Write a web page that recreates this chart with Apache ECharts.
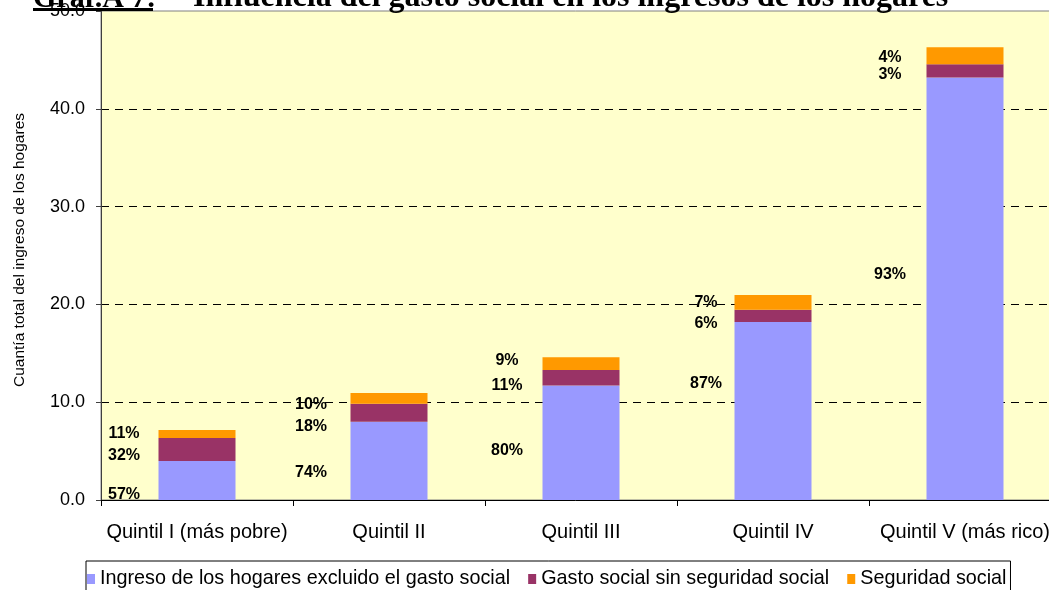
<!DOCTYPE html>
<html>
<head>
<meta charset="utf-8">
<title>Gráf.A 7</title>
<script src="https://cdn.jsdelivr.net/npm/echarts@6/dist/echarts.min.js"></script>
<style>
  html, body { margin: 0; padding: 0; background: #fff; }
  #main { width: 1049px; height: 590px; }
</style>
</head>
<body>
<div id="main"></div>
<script>
// datos
var quintiles = ['Quintil I (más pobre)', 'Quintil II', 'Quintil III', 'Quintil IV', 'Quintil V (más rico)'];
var ingreso = [4.0, 8.0, 11.7, 18.2, 43.2];
var gastoSinSS = [2.35, 1.85, 1.6, 1.25, 1.35];
var seguridad = [0.8, 1.1, 1.3, 1.5, 1.75];
var pctIngreso = ['57%', '74%', '80%', '87%', '93%'];
var pctGasto = ['32%', '18%', '11%', '6%', '3%'];
var pctSeg = ['11%', '10%', '9%', '7%', '4%'];
var yTicks = [0, 10, 20, 30, 40, 50];

var nombres = ['Ingreso de los hogares excluido el gasto social', 'Gasto social sin seguridad social', 'Seguridad social'];
var colores = ['#9999FF', '#993366', '#FF9900'];

// ajuste manual de las etiquetas (como en el original, a la izquierda de cada barra)
var dxLab = [-73, -78, -74, -67, -75];
var dyLab = [
  [14, 12, 8, -27, -14],
  [6, 14, 8, 8, 4],
  [0, 6, -3, 0, 2]
];

function serie(i, valores, pcts) {
  return {
    name: nombres[i],
    type: 'bar',
    stack: 'total',
    barWidth: 77,
    itemStyle: { color: colores[i] },
    data: valores.map(function (v, k) {
      return {
        value: v,
        label: {
          show: true,
          position: 'inside',
          formatter: pcts[k],
          offset: [dxLab[k], dyLab[i][k]],
          color: '#000',
          fontWeight: 'bold',
          fontSize: 16,
          fontFamily: 'Liberation Sans, Arial'
        }
      };
    })
  };
}

var myChart = echarts.init(document.getElementById('main'), null, { renderer: 'canvas' });

myChart.setOption({
  backgroundColor: '#ffffff',
  animation: false,
  textStyle: { fontFamily: 'Liberation Sans, Arial' },
  grid: {
    left: 101, top: 11, width: 960, height: 489,
    outerBoundsMode: 'none',
    containLabel: false,
    show: true,
    backgroundColor: '#FFFFCC',
    borderColor: '#808080',
    borderWidth: 1
  },
  legend: {
    left: 86, top: 561,
    padding: [8, 4, 8, 1],
    borderColor: '#000',
    borderWidth: 1,
    itemWidth: 8, itemHeight: 10,
    itemGap: 18,
    icon: 'rect',
    textStyle: { fontSize: 19.8, color: '#000' },
    data: nombres
  },
  xAxis: {
    type: 'category',
    data: quintiles,
    boundaryGap: true,
    axisLine: { show: true, lineStyle: { color: '#000', width: 1 } },
    axisTick: { show: true, length: 6, lineStyle: { color: '#000' } },
    axisLabel: { fontSize: 20, color: '#000', margin: 22, interval: 0 }
  },
  yAxis: {
    type: 'value',
    min: yTicks[0],
    max: yTicks[yTicks.length - 1],
    interval: 10,
    axisLine: { show: true, onZero: false, lineStyle: { color: '#404040', width: 1 } },
    axisTick: { show: true, length: 5, lineStyle: { color: '#404040' } },
    axisLabel: {
      fontSize: 18, color: '#000', margin: 16,
      formatter: function (v) { return v.toFixed(1); }
    },
    splitLine: {
      show: true,
      lineStyle: {
        color: ['rgba(0,0,0,0)', '#000', '#000', '#000', '#000', 'rgba(0,0,0,0)'],
        type: [8, 6],
        width: 1
      }
    }
  },
  graphic: [
    {
      type: 'text', x: 20, y: 250, rotation: Math.PI / 2,
      style: {
        text: 'Cuantía total del ingreso de los hogares',
        font: '15.5px "Liberation Sans", Arial',
        fill: '#000', align: 'center', verticalAlign: 'middle'
      }
    },
    {
      type: 'text', x: 33, y: -1, z: 100,
      style: {
        text: 'Gráf.A 7:',
        font: 'bold 30px "Liberation Serif", "Times New Roman"',
        fill: '#000', align: 'left', verticalAlign: 'middle'
      }
    },
    {
      type: 'text', x: 193, y: -2, z: 100,
      style: {
        text: 'Influencia del gasto social en los ingresos de los hogares',
        font: 'bold 32px "Liberation Serif", "Times New Roman"',
        fill: '#000', align: 'left', verticalAlign: 'middle'
      }
    },
    {
      type: 'rect', z: 100,
      shape: { x: 33, y: 8, width: 120, height: 3 },
      style: { fill: '#000' }
    }
  ],
  series: [
    serie(0, ingreso, pctIngreso),
    serie(1, gastoSinSS, pctGasto),
    serie(2, seguridad, pctSeg)
  ]
});
</script>
</body>
</html>
